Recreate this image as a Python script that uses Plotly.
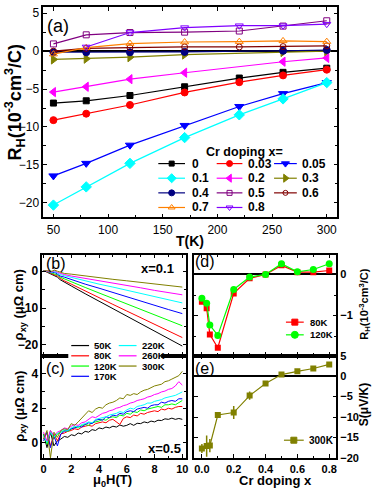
import plotly.graph_objects as go

# ---------------- data ----------------
# (a) Hall coefficient vs temperature, one list per Cr doping level
T_K = [50, 80, 120, 170, 220, 260, 300]
doping_labels = ['0', '0.03', '0.05', '0.1', '0.2', '0.3', '0.4', '0.5', '0.6', '0.7', '0.8']
RH_x000 = [-6.85, -6.55, -5.85, -4.7, -3.55, -2.8, -2.25]
RH_x003 = [-9.1, -8.25, -7.1, -5.45, -4.1, -3.2, -2.45]
RH_x005 = [-16.45, -14.8, -12.4, -9.8, -7.3, -5.6, -4.15]
RH_x010 = [-20.3, -17.9, -14.8, -11.4, -8.4, -6.3, -4.15]
RH_x020 = [-5.4, -4.7, -3.7, -2.85, None, -1.4, -0.9]
RH_x030 = [-1.1, -1.0, -0.8, -0.45, None, -0.12, 0.0]
RH_x040 = [-0.15, -0.15, -0.15, -0.1, None, 0.05, 0.15]
RH_x050 = [0.95, 2.15, 2.45, 2.5, 2.65, 3.3, 4.0]
RH_x060 = [0.0, 0.35, 0.45, 0.55, 0.55, 0.6, 0.7]
RH_x070 = [-0.4, 0.45, 1.0, 1.2, 1.25, 1.35, 1.25]
RH_x080 = [None, 0.55, 2.45, 3.1, 3.35, 3.35, 3.55]

# (b) rho_xy(H) for x=0.1
H_b = [0, 0.2, 0.4, 0.6, 0.8, 1.0, 1.2, 1.5, 2, 3, 4, 5, 6, 7, 8, 9, 10]
temp_labels = ['50K', '80K', '120K', '170K', '220K', '260K', '300K']
rho_b_50K = [0.2, -0.2, -0.5, -0.9, -1.3, -1.6, -2.3, -3.0, -4.0, -6.1, -8.1, -10.2, -12.2, -14.2, -16.3, -18.3, -20.3]
rho_b_80K = [0.2, -0.1, -0.4, -0.7, -1.0, -1.3, -1.9, -2.6, -3.5, -5.4, -7.2, -9.0, -10.8, -12.6, -14.4, -16.2, -18.0]
rho_b_120K = [0.2, 0.0, -0.3, -0.5, -0.6, -1.0, -1.6, -2.1, -2.9, -4.4, -5.9, -7.4, -8.9, -10.3, -11.8, -13.3, -14.8]
rho_b_170K = [0.1, 0.0, -0.2, -0.4, -0.3, -0.8, -1.3, -1.6, -2.3, -3.5, -4.6, -5.8, -6.9, -8.1, -9.2, -10.4, -11.5]
rho_b_220K = [0.1, 0.1, -0.1, -0.3, 0.0, -0.5, -0.9, -1.2, -1.7, -2.6, -3.5, -4.3, -5.2, -6.0, -6.9, -7.7, -8.6]
rho_b_260K = [0.1, 0.1, 0.0, -0.2, 0.2, -0.3, -0.6, -0.9, -1.3, -1.9, -2.6, -3.2, -3.9, -4.5, -5.2, -5.8, -6.4]
rho_b_300K = [0.1, 0.2, 0.1, 0.0, 0.3, 0.0, -0.3, -0.6, -0.8, -1.3, -1.7, -2.2, -2.6, -3.0, -3.5, -3.9, -4.3]

# (c) rho_xy(H) for x=0.5
H_c = [0, 0.25, 0.5, 0.75, 1.0, 1.25, 1.5, 1.75, 2.0, 2.25, 2.5, 2.75, 3.0, 3.25, 3.5, 3.75,
       4.0, 4.25, 4.5, 4.75, 5.0, 5.25, 5.5, 5.75, 6.0, 6.25, 6.5, 6.75, 7.0, 7.25, 7.5, 7.75,
       8.0, 8.25, 8.5, 8.75, 9.0, 9.25, 9.5, 9.75, 10.0]
rho_c_50K = [0.5, -0.3, 0.6, -0.2, 0.1, 0.2, 0.35, 0.3, 0.45, 0.4, 0.55, 0.5, 0.65, 0.6, 0.75, 0.7,
             0.85, 0.8, 0.9, 0.85, 0.95, 0.9, 1.02, 0.95, 1.0, 1.1, 1.0, 1.12, 1.1, 1.2, 1.15, 1.25,
             1.2, 1.3, 1.28, 1.38, 1.35, 1.42, 1.35, 1.4, 1.35]
rho_c_80K = [0.2, 0.6, -0.2, 0.5, 0.1, 0.5, 0.55, 0.65, 0.7, 0.8, 0.75, 0.9, 0.95, 1.0, 0.95, 1.1,
             1.15, 1.2, 1.15, 1.3, 1.35, 1.2, 1.05, 1.4, 1.5, 1.45, 1.6, 1.55, 1.7, 1.65, 1.75, 1.8,
             1.85, 1.8, 1.95, 1.9, 2.0, 1.95, 2.05, 2.1, 2.1]
rho_c_120K = [0.5, -0.1, 0.7, 0.2, 0.5, 0.6, 0.7, 0.65, 0.8, 0.9, 0.85, 1.0, 1.05, 1.0, 1.15, 1.2,
              1.25, 1.35, 1.3, 1.45, 1.5, 1.45, 1.6, 1.55, 1.7, 1.65, 1.8, 1.75, 1.9, 1.85, 1.95, 2.0,
              2.05, 2.1, 2.05, 2.2, 2.2, 2.25, 2.2, 2.35, 2.45]
rho_c_170K = [0.1, 0.6, -0.3, 0.4, -0.2, 0.5, 0.65, 0.7, 0.8, 0.85, 0.95, 0.9, 1.05, 1.15, 1.1, 1.3,
              1.35, 1.3, 1.5, 1.45, 1.6, 1.55, 1.7, 1.65, 1.8, 1.85, 1.8, 1.95, 2.0, 2.05, 2.0, 2.15,
              2.2, 2.2, 2.35, 2.3, 2.4, 2.45, 2.4, 2.55, 2.55]
rho_c_220K = [0.4, 0.0, 0.6, 0.3, 0.55, 0.6, 0.75, 0.7, 0.85, 0.95, 0.9, 1.05, 1.1, 1.2, 1.15, 1.35,
              1.4, 1.45, 1.5, 1.6, 1.65, 1.7, 1.8, 1.75, 1.9, 2.0, 1.95, 2.1, 2.15, 2.2, 2.3, 2.3,
              2.4, 2.45, 2.5, 2.6, 2.65, 2.7, 2.75, 2.85, 2.95]
rho_c_260K = [0.6, 0.1, 0.7, 0.4, 0.6, 0.7, 0.85, 0.8, 0.95, 1.05, 1.0, 1.15, 1.2, 1.35, 1.5, 1.45,
              1.6, 1.7, 1.75, 1.85, 1.9, 2.0, 2.05, 2.15, 2.2, 2.3, 2.35, 2.45, 2.5, 2.55, 2.65, 2.7,
              2.8, 2.85, 2.95, 3.0, 3.1, 3.15, 3.3, 3.55, 3.35]
rho_c_300K = [0.2, 0.7, -0.9, 0.6, 0.3, 0.7, 0.8, 0.75, 1.1, 1.0, 1.2, 1.4, 1.6, 1.85, 1.75, 1.95,
              2.05, 2.0, 2.2, 2.3, 2.35, 2.45, 2.6, 2.55, 2.8, 2.75, 2.85, 2.8, 2.95, 3.05, 3.1, 3.2,
              3.3, 3.35, 3.4, 3.55, 3.6, 3.7, 3.8, 3.9, 4.15]

# (d) R_H vs Cr doping, (e) Seebeck vs Cr doping
x_cr = [0, 0.03, 0.05, 0.1, 0.2, 0.3, 0.4, 0.5, 0.6, 0.7, 0.8]
RH_80K = [-0.66, -0.82, -1.46, -1.78, -0.46, -0.095, 0.0, 0.22, 0.055, 0.055, 0.095]
RH_120K = [-0.58, -0.7, -1.23, -1.48, -0.365, -0.065, 0.0, 0.26, 0.065, 0.12, 0.26]
S_300K = [-17.7, -17.1, -17.0, -9.5, -8.9, -4.75, -1.8, 0.4, 1.2, 1.9, 2.9]
S_err = [1.1, 2.6, 1.6, 0.3, 1.6, 1.0, 0.3, 0.3, 0.3, 0.3, 0.3]

# ---------------- styles ----------------
W, H = 374, 495
FONT = 'Liberation Sans'
a_colors = ['#000000', '#ff0000', '#0000ff', '#00ffff', '#ff00ff', '#808000',
            '#000080', '#800080', '#800000', '#ff8000', '#8000ff']
a_symbols = ['square', 'circle', 'triangle-down', 'diamond', 'triangle-left', 'triangle-right',
             'circle', 'square-open', 'circle-open', 'triangle-up-open', 'triangle-down-open']
a_sizes = [6, 7, 8, 8, 8, 8, 7, 6, 6, 7, 7]
t_colors = ['#000000', '#ff0000', '#00ff00', '#0000ff', '#00ffff', '#ff00ff', '#808000']

RH_all = [RH_x000, RH_x003, RH_x005, RH_x010, RH_x020, RH_x030,
          RH_x040, RH_x050, RH_x060, RH_x070, RH_x080]
rho_b = [rho_b_50K, rho_b_80K, rho_b_120K, rho_b_170K, rho_b_220K, rho_b_260K, rho_b_300K]
rho_c = [rho_c_50K, rho_c_80K, rho_c_120K, rho_c_170K, rho_c_220K, rho_c_260K, rho_c_300K]


def px_dom(a, b, total):
    return [a / total, b / total]


def py_dom(top, bottom):
    return [(H - bottom) / H, (H - top) / H]


fig = go.Figure()

# (a)
for lab, ys, c, s, ms in zip(doping_labels, RH_all, a_colors, a_symbols, a_sizes):
    fig.add_trace(go.Scatter(x=T_K, y=ys, mode='lines+markers', connectgaps=True,
                             line=dict(color=c, width=1.2),
                             marker=dict(symbol=s, size=ms, color=c, line=dict(color=c, width=1)),
                             xaxis='x', yaxis='y', showlegend=False))
# (b)
for ys, c in zip(rho_b, t_colors):
    fig.add_trace(go.Scatter(x=H_b, y=ys, mode='lines', line=dict(color=c, width=1),
                             xaxis='x2', yaxis='y2', showlegend=False))
# (c)
for ys, c in zip(rho_c, t_colors):
    fig.add_trace(go.Scatter(x=H_c, y=ys, mode='lines', line=dict(color=c, width=1),
                             xaxis='x3', yaxis='y3', showlegend=False))
# (d)
fig.add_trace(go.Scatter(x=x_cr, y=RH_80K, mode='lines+markers', line=dict(color='#ff0000', width=1.2),
                         marker=dict(symbol='square', size=6, color='#ff0000'),
                         xaxis='x4', yaxis='y4', showlegend=False))
fig.add_trace(go.Scatter(x=x_cr, y=RH_120K, mode='lines+markers', line=dict(color='#00ff00', width=1.2),
                         marker=dict(symbol='circle', size=7, color='#00ff00'),
                         xaxis='x4', yaxis='y4', showlegend=False))
# (e)
fig.add_trace(go.Scatter(x=x_cr, y=S_300K, mode='lines+markers', line=dict(color='#808000', width=1.2),
                         marker=dict(symbol='square', size=6, color='#808000'),
                         error_y=dict(type='data', array=S_err, color='#808000', thickness=1.5, width=0),
                         xaxis='x5', yaxis='y5', showlegend=False))


# hand-made legends, drawn in a pixel frame (x6/y6) laid over the whole figure
def key(x0, x1, y, color, symbol=None, size=6, lw=1.2):
    fig.add_trace(go.Scatter(x=[x0, x1], y=[y, y], mode='lines', line=dict(color=color, width=lw),
                             xaxis='x6', yaxis='y6', showlegend=False, hoverinfo='skip'))
    if symbol:
        fig.add_trace(go.Scatter(x=[(x0 + x1) / 2], y=[y], mode='markers',
                                 marker=dict(symbol=symbol, size=size, color=color, line=dict(color=color, width=1)),
                                 xaxis='x6', yaxis='y6', showlegend=False, hoverinfo='skip'))


annots = []
shapes = []


def text(x, y, t, size=12, bold=True, angle=0, xanchor='center'):
    annots.append(dict(x=x, y=y, xref='x6', yref='y6', text=t, showarrow=False, textangle=angle,
                       xanchor=xanchor, yanchor='middle',
                       font=dict(family=FONT, size=size, color='black', weight='bold' if bold else 'normal')))


a_cols = [(158, 185, 190), (217, 243, 247), (275, 298, 301)]
a_rows = [161.5, 176.5, 191.5, 206.5]
for i, lab in enumerate(doping_labels):
    x0, x1, xt = a_cols[i % 3]
    y = a_rows[i // 3]
    key(x0, x1, y, a_colors[i], a_symbols[i], a_sizes[i] - 1)
    text(xt, y, lab, 12, xanchor='left')
text(245, 150, 'Cr doping x=', 12.5)

# legend of (b): white box over the (b)/(c) border, line keys as shapes on top of it
shapes.append(dict(type='rect', xref='x6', yref='y6', x0=67, x1=161, y0=341, y1=385,
                   fillcolor='white', line=dict(width=0), layer='above'))
b_cols = [(70, 88, 91), (118, 136, 139)]
b_rows = [348, 358.5, 369, 379.5]
for i, lab in enumerate(temp_labels):
    col = 0 if i < 4 else 1
    x0, x1, xt = b_cols[col]
    y = b_rows[i if i < 4 else i - 4]
    shapes.append(dict(type='line', xref='x6', yref='y6', x0=x0, x1=x1, y0=y, y1=y,
                       line=dict(color=t_colors[i], width=1.2), layer='above'))
    text(xt, y, lab, 9.5, xanchor='left')

key(287, 305, 324, '#ff0000', 'square', 6)
text(309, 324, '80K', 9.5, xanchor='left')
key(287, 305, 337, '#00ff00', 'circle', 7)
text(309, 337, '120K', 9.5, xanchor='left')
key(285, 305, 445, '#808000', 'square', 6)
text(308, 445, '300K', 10, xanchor='left')

# panel labels and axis titles
text(57, 21, '(a)', 18, bold=False)
text(55, 264, '(b)', 16, bold=False)
text(54, 372, '(c)', 16, bold=False)
text(205, 262, '(d)', 16, bold=False)
text(205, 371, '(e)', 16, bold=False)
text(157, 269, 'x=0.1', 13)
text(164, 453, 'x=0.5', 13)
text(13, 99, 'R<sub>H</sub>(10<sup>-3</sup>cm<sup>3</sup>/C)', 18, angle=-90)
text(190, 241, 'T(K)', 14)
text(18, 306, 'ρ<sub>xy</sub> (μΩ cm)', 13, angle=-90)
text(18, 410, 'ρ<sub>xy</sub> (μΩ cm)', 13, angle=-90)
text(112, 486, 'μ<sub>0</sub>H(T)', 13)
text(276, 486, 'Cr doping x', 13)
text(366, 306, 'R<sub>H</sub>(10<sup>-3</sup>cm<sup>3</sup>/C)', 11, angle=-90)
text(366, 409, 'S(μV/K)', 12, angle=-90)


def ax(domain, rng, dtick, minor=None, labels=True, bold=True, size=12, **kw):
    d = dict(domain=domain, range=rng, dtick=dtick, tick0=0, showline=True, linecolor='black',
             linewidth=1.5, mirror='ticks', ticks='inside', ticklen=4, tickwidth=1.2,
             tickcolor='black', showgrid=False, zeroline=False, showticklabels=labels,
             tickfont=dict(family=FONT, size=size, color='black', weight='bold' if bold else 'normal'))
    if minor:
        d['minor'] = dict(dtick=minor, ticks='inside', ticklen=2.5, tickwidth=1, tickcolor='black',
                          showgrid=False)
    d.update(kw)
    return d


xa = px_dom(41.7, 339, W)
xl = px_dom(40.7, 186.3, W)
xr = px_dom(194, 338, W)

fig.update_layout(
    width=W, height=H,
    margin=dict(l=0, r=0, t=0, b=0),
    paper_bgcolor='white', plot_bgcolor='rgba(0,0,0,0)',
    showlegend=False,
    xaxis=ax(xa, [40.7, 309.7], 50, 25, bold=False, size=12, anchor='y'),
    yaxis=ax(py_dom(1, 216.7), [-21.93, 5.82], 5, 2.5, bold=False, size=12, anchor='x',
             zeroline=True, zerolinecolor='black', zerolinewidth=1.5),
    xaxis2=ax(xl, [-0.09, 10.29], 2, 1, labels=False, anchor='y2'),
    yaxis2=ax(py_dom(254.7, 358.3), [-22.9, 4.53], 10, 5, anchor='x2'),
    xaxis3=ax(xl, [-0.09, 10.29], 2, 1, anchor='y3', size=11),
    yaxis3=ax(py_dom(358.3, 463.3), [-0.91, 5.07], 2, 1, anchor='x3'),
    xaxis4=ax(xr, [-0.05, 0.845], 0.2, 0.1, labels=False, anchor='y4'),
    yaxis4=ax(py_dom(254.7, 358.3), [-1.97, 0.483], 1, 0.5, anchor='x4', side='right', size=11,
              zeroline=True, zerolinecolor='black', zerolinewidth=1.5),
    xaxis5=ax(xr, [-0.05, 0.845], 0.2, 0.1, anchor='y5', tickformat='.1f', size=11),
    yaxis5=ax(py_dom(358.3, 463.3), [-20.05, 5.05], 5, None, anchor='x5', side='right', size=11,
              zeroline=True, zerolinecolor='black', zerolinewidth=1.5),
    xaxis6=dict(domain=[0, 1], range=[0, W], visible=False, anchor='y6', fixedrange=True),
    yaxis6=dict(domain=[0, 1], range=[H, 0], visible=False, anchor='x6', fixedrange=True),
    annotations=annots,
    shapes=shapes,
)

# the page body has a default 8px margin; drop it so the figure sits at the window corner
fig.write_html("out.html", config={'displayModeBar': False},
               post_script="document.body.style.margin='0';")
